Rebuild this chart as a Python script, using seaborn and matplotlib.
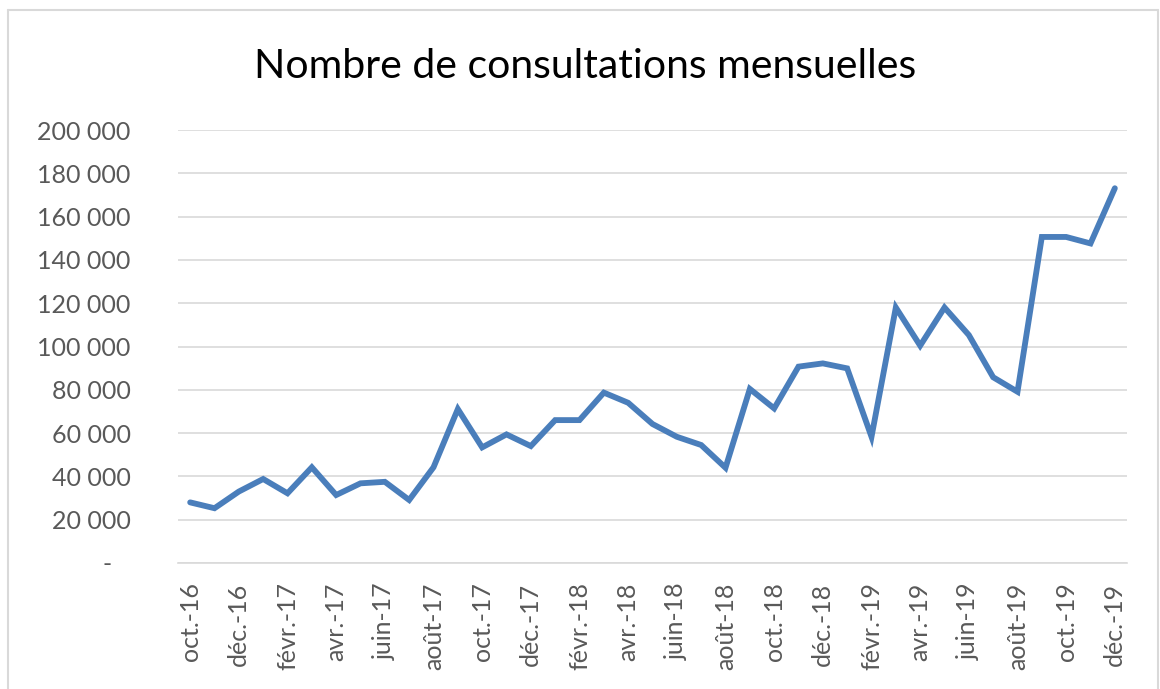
import numpy as np
import pandas as pd
import matplotlib
matplotlib.use('Agg')
import matplotlib.pyplot as plt
import seaborn as sns
from matplotlib.lines import Line2D

# French month abbreviations used by the category axis
mois = ['janv.', 'févr.', 'mars', 'avr.', 'mai', 'juin',
        'juil.', 'août', 'sept.', 'oct.', 'nov.', 'déc.']

# categories: oct. 2016 -> déc. 2019
annees = [16] * 3 + [17] * 12 + [18] * 12 + [19] * 12
num_mois = [9, 10, 11] + list(range(12)) * 3
categories = [f"{mois[m]}-{a}" for m, a in zip(num_mois, annees)]

# monthly consultations
consultations = [28000, 25300, 33000, 38800, 32200, 44200, 31400, 36800, 37500, 29100,
                 44200, 71100, 53400, 59400, 54000, 66000, 66000, 78700, 74000, 64200,
                 58300, 54500, 44000, 80400, 71400, 90700, 92200, 89900, 58300, 118000,
                 100400, 118000, 105300, 85800, 79100, 150600, 150600, 147600, 173100]

y_ticks = [0, 20000, 40000, 60000, 80000, 100000, 120000, 140000, 160000, 180000, 200000]

df = pd.DataFrame({'idx': np.arange(len(categories)), 'mois': categories,
                   'consultations': consultations})

sns.set_style('white')
plt.rcParams['font.family'] = ['Lato', 'DejaVu Sans']

fig = plt.figure(figsize=(11.6, 6.89), dpi=100)
ax = fig.add_axes([178 / 1160, 1 - 563 / 689, (1127 - 178) / 1160, (563 - 130) / 689])

sns.lineplot(data=df, x='idx', y='consultations', ax=ax, color='#4a7ebb',
             linewidth=4.2, solid_joinstyle='miter')

ax.set_xlim(-0.5, len(categories) - 0.5)
ax.set_ylim(0, 200000)

# y axis
ax.set_yticks(y_ticks)
ax.set_yticklabels([f"{v:,}".replace(',', ' ') if v else '-   ' for v in y_ticks])
ax.tick_params(axis='y', length=0, pad=34, labelsize=18, labelcolor='#595959')
ax.grid(axis='y', color='#d9d9d9', linewidth=1.2)

# x axis: labels on every second month, tick marks between categories
ax.set_xticks(df['idx'][::2])
ax.set_xticklabels(df['mois'][::2], rotation=90, va='top', ha='center')
ax.tick_params(axis='x', which='major', length=0, pad=14, labelsize=18, labelcolor='#595959')
ax.set_xticks(np.arange(-0.5, len(categories) - 1, 2), minor=True)
ax.tick_params(axis='x', which='minor', length=8, width=1.2, color='#d9d9d9', direction='out')

for s in ['top', 'right', 'left']:
    ax.spines[s].set_visible(False)
ax.spines['bottom'].set_color('#d9d9d9')
ax.spines['bottom'].set_linewidth(1.2)

ax.set_xlabel('')
ax.set_ylabel('')

fig.text(585 / 1160, 1 - 66 / 689, 'Nombre de consultations mensuelles',
         ha='center', va='center', fontsize=29.5, color='#000000')

# chart frame
for xs, ys in [([8, 8], [10, 689]), ([8, 1158], [10, 10]), ([1158, 1158], [10, 689])]:
    fig.add_artist(Line2D([x / 1160 for x in xs], [1 - y / 689 for y in ys],
                          color='#d9d9d9', linewidth=1.5, transform=fig.transFigure))

fig.savefig('out.png', dpi=100, facecolor='white')
